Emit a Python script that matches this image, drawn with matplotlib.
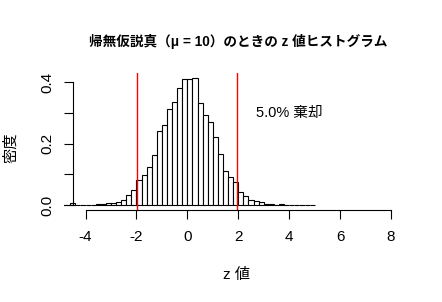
import numpy as np
import matplotlib
matplotlib.use("Agg")
import matplotlib.pyplot as plt
from matplotlib.patches import Rectangle

# ヒストグラムの階級(幅 0.2、-5.0 〜 5.0)
breaks = np.round(np.arange(-5.0, 5.01, 0.2), 1)

# 各階級の密度
density = [
    0.000, 0.000, 0.005, 0.000, 0.000, 0.000, 0.000, 0.003, 0.003, 0.006,
    0.006, 0.010, 0.018, 0.032, 0.048, 0.081, 0.097, 0.123, 0.162, 0.240,
    0.260, 0.312, 0.334, 0.380, 0.409, 0.409, 0.413, 0.332, 0.292, 0.269,
    0.220, 0.165, 0.111, 0.090, 0.074, 0.041, 0.028, 0.016, 0.013, 0.009,
    0.003, 0.003, 0.000, 0.003, 0.000, 0.000, 0.000, 0.000, 0.000, 0.000,
]

crit = [-1.96, 1.96]
xticks = [-4, -2, 0, 2, 4, 6, 8]
yticks = [0.0, 0.1, 0.2, 0.3, 0.4]
ytick_labels = ["0.0", "", "0.2", "", "0.4"]

title = "帰無仮説真（μ = 10）のときの z 値ヒストグラム"
xlabel = "z 値"
ylabel = "密度"
note = "5.0% 棄却"

fam = ["Liberation Sans", "Noto Sans CJK JP"]
plt.rcParams["font.family"] = fam

fig = plt.figure(figsize=(4.42, 3.02), dpi=100)
ax = fig.add_axes([0.1658, 0.3043, 0.9125 - 0.1658, 0.7573 - 0.3043])

bars = ax.bar(breaks[:-1], density, width=0.2, align="edge",
              color="white", edgecolor="black", linewidth=0.8)
clip = Rectangle((-4.86, -0.02), 14, 0.5, transform=ax.transData)
for b in bars:
    b.set_clip_path(clip)

for c in crit:
    ax.axvline(c, color="#ff0000", linewidth=1.0)

ax.text(4, 0.3, note, ha="center", va="center", fontsize=10.5)

ax.set_xlim(-4.48, 8.48)
ax.set_ylim(-0.0165, 0.429)

for s in ["top", "right"]:
    ax.spines[s].set_visible(False)
ax.spines["left"].set_bounds(0, 0.4)
ax.spines["bottom"].set_bounds(-4, 8)
for s in ["left", "bottom"]:
    ax.spines[s].set_linewidth(0.8)

ax.set_xticks(xticks)
ax.set_xticklabels([str(t) for t in xticks])
ax.set_yticks(yticks)
ax.set_yticklabels(ytick_labels)
ax.tick_params(axis="both", direction="out", length=6.5, width=0.8, labelsize=11)
ax.tick_params(axis="x", pad=8)
ax.tick_params(axis="y", pad=7)
plt.setp(ax.get_yticklabels(), rotation=90, va="center")

fig.text(238 / 442, 1 - 41 / 302, title, ha="center", va="center",
         fontsize=9.8, fontweight="bold")
fig.text(237 / 442, 1 - 275 / 302, xlabel, ha="center", va="center", fontsize=11)
fig.text(11 / 442, 1 - 148 / 302, ylabel, ha="center", va="center",
         rotation=90, fontsize=11)

fig.savefig("out.png", dpi=100, facecolor="white")
